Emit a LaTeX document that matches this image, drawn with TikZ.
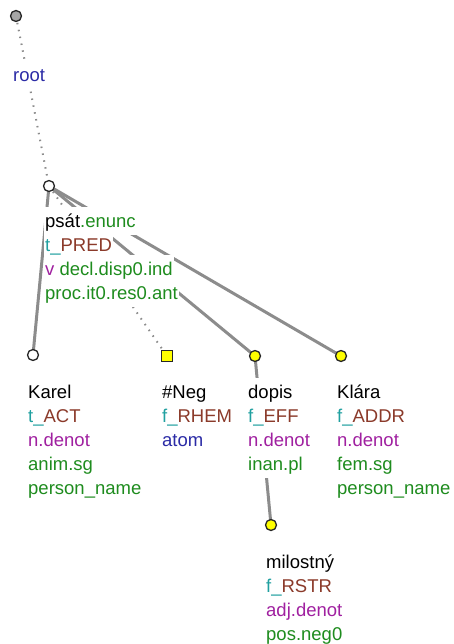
\documentclass[tikz,border=0pt]{standalone}
\usepackage{fontspec}
\setmainfont{Liberation Sans}
\usepackage{xcolor}
\usetikzlibrary{backgrounds}
\definecolor{tgGreen}{HTML}{1E8C1E}
\definecolor{tgTeal}{HTML}{20A0A0}
\definecolor{tgBrown}{HTML}{8B3A2A}
\definecolor{tgPurple}{HTML}{A020A0}
\definecolor{tgBlue}{HTML}{2B2BA6}
\definecolor{tgEdge}{HTML}{8C8C8C}
\definecolor{tgYellow}{HTML}{FFFF00}
\tikzset{
  tNode/.style={circle, draw=black!85, line width=1.3pt, fill=white, minimum size=11pt, inner sep=0pt},
  rootNode/.style={tNode, fill=black!35},
  fNode/.style={tNode, fill=tgYellow},
  atomNode/.style={rectangle, draw=black!85, line width=1.3pt, fill=tgYellow, minimum size=11pt, inner sep=0pt},
  tEdge/.style={draw=tgEdge, line width=3pt},
  auxEdge/.style={draw=black!45, line width=2pt, dash pattern=on 1.5pt off 5.5pt},
  lineLabel/.style={anchor=base west, inner sep=1pt, text height=19pt, text depth=7pt, fill=white, font=\fontsize{18.5}{24}\selectfont}
}

\begin{document}
\begin{tikzpicture}[x=1pt,y=-1pt]
  \useasboundingbox (0,0) rectangle (453,644);
  % tree nodes
  \node[rootNode] (root) at (16,16) {};
  \node[tNode] (psat) at (49,186) {};
  \node[tNode] (karel) at (33,355) {};
  \node[atomNode] (neg) at (167,356) {};
  \node[fNode] (dopis) at (255,356) {};
  \node[fNode] (klara) at (341,356) {};
  \node[fNode] (milostny) at (271,525) {};
  % labels
  \node[lineLabel] (rootA) at (12,82) {\textcolor{tgBlue}{root}};
  \node[lineLabel] (psatA) at (44,227) {psát\textcolor{tgGreen}{.enunc}};
  \node[lineLabel] (psatB) at (44,251) {\textcolor{tgTeal}{t\_}\textcolor{tgBrown}{PRED}};
  \node[lineLabel] (psatC) at (44,275) {\textcolor{tgPurple}{v} \textcolor{tgGreen}{decl.disp0.ind}};
  \node[lineLabel] (psatD) at (44,299) {\textcolor{tgGreen}{proc.it0.res0.ant}};
  \node[lineLabel] (karelA) at (27,398) {Karel};
  \node[lineLabel] (karelB) at (27,422) {\textcolor{tgTeal}{t\_}\textcolor{tgBrown}{ACT}};
  \node[lineLabel] (karelC) at (27,446) {\textcolor{tgPurple}{n.denot}};
  \node[lineLabel] (karelD) at (27,470) {\textcolor{tgGreen}{anim.sg}};
  \node[lineLabel] (karelE) at (27,494) {\textcolor{tgGreen}{person\_name}};
  \node[lineLabel] (negA) at (161,398) {\#Neg};
  \node[lineLabel] (negB) at (161,422) {\textcolor{tgTeal}{f\_}\textcolor{tgBrown}{RHEM}};
  \node[lineLabel] (negC) at (161,446) {\textcolor{tgBlue}{atom}};
  \node[lineLabel] (dopisA) at (247,398) {dopis};
  \node[lineLabel] (dopisB) at (247,422) {\textcolor{tgTeal}{f\_}\textcolor{tgBrown}{EFF}};
  \node[lineLabel] (dopisC) at (247,446) {\textcolor{tgPurple}{n.denot}};
  \node[lineLabel] (dopisD) at (247,470) {\textcolor{tgGreen}{inan.pl}};
  \node[lineLabel] (klaraA) at (336,398) {Klára};
  \node[lineLabel] (klaraB) at (336,422) {\textcolor{tgTeal}{f\_}\textcolor{tgBrown}{ADDR}};
  \node[lineLabel] (klaraC) at (336,446) {\textcolor{tgPurple}{n.denot}};
  \node[lineLabel] (klaraD) at (336,470) {\textcolor{tgGreen}{fem.sg}};
  \node[lineLabel] (klaraE) at (336,494) {\textcolor{tgGreen}{person\_name}};
  \node[lineLabel] (milostnyA) at (265,568) {milostný};
  \node[lineLabel] (milostnyB) at (265,592) {\textcolor{tgTeal}{f\_}\textcolor{tgBrown}{RSTR}};
  \node[lineLabel] (milostnyC) at (265,616) {\textcolor{tgPurple}{adj.denot}};
  \node[lineLabel] (milostnyD) at (265,640) {\textcolor{tgGreen}{pos.neg0}};
  % edges
  \begin{pgfonlayer}{background}
    \draw[auxEdge] (root.center) -- (psat.center);
    \draw[tEdge] (psat.center) -- (karel.center);
    \draw[auxEdge] (psat.center) -- (neg.center);
    \draw[tEdge] (psat.center) -- (dopis.center);
    \draw[tEdge] (psat.center) -- (klara.center);
    \draw[tEdge] (dopis.center) -- (milostny.center);
  \end{pgfonlayer}
\end{tikzpicture}
\end{document}
